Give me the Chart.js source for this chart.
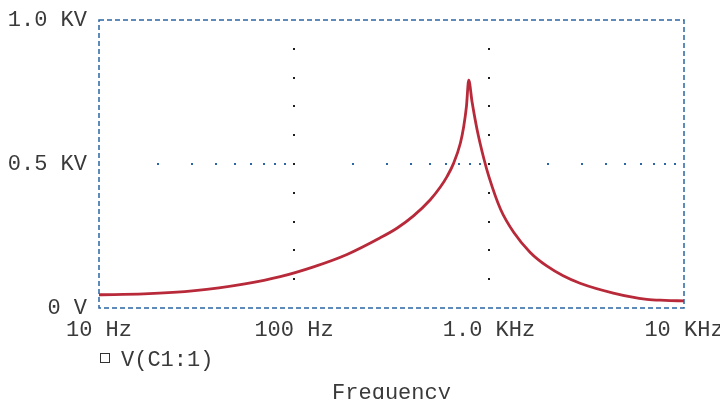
<!DOCTYPE html>
<html>
<head>
<meta charset="utf-8">
<script src="https://cdn.jsdelivr.net/npm/chart.js@4.4.0/dist/chart.umd.min.js"></script>
<style>
  html, body { margin: 0; padding: 0; background: #fff; }
  #wrap { width: 720px; height: 399px; }
</style>
</head>
<body>
<div id="wrap"><canvas id="chart"></canvas></div>
<script>
// AC sweep: frequency (Hz) and V(C1:1) (volts)
const freqs = [10, 17, 31, 56, 85, 126, 187, 277, 337, 410, 500, 563, 610, 659, 713, 742, 766, 787,
               819, 869, 940, 997, 1146, 1341, 1627, 1977, 2400, 2930, 4340, 6450, 8000, 10000];
const volts = [46, 49, 60, 84, 109, 143, 186, 244, 277, 320, 376, 420, 457, 503, 572, 630, 699, 791,
               715, 619, 520, 458, 343, 262, 193, 146, 112, 86, 52, 30, 26.5, 24.5];
const seriesName = 'V(C1:1)';
const xTitle = 'Frequency';

const xTicks = [10, 100, 1000, 10000];
const xTickLabels = ['10 Hz', '100 Hz', '1.0 KHz', '10 KHz'];
const yTicks = [0, 500, 1000];
const yTickLabels = ['0 V', '0.5 KV', '1.0 KV'];

// dotted grid: black columns at the decades, blue row at 0.5 KV on the minor ticks
const gridDecades = [100, 1000];
const gridLevels = [100, 200, 300, 400, 500, 600, 700, 800, 900];
const minorFreqs = [20, 30, 40, 50, 60, 70, 80, 90, 200, 300, 400, 500, 600, 700, 800, 900,
                    2000, 3000, 4000, 5000, 6000, 7000, 8000, 9000];
const midLevel = 500;

const blue = '#2a66a3';
const textCol = '#3a3a3a';
const fontFamily = "'Liberation Mono', 'DejaVu Sans Mono', monospace";
const monoFont = { family: fontFamily, size: 22 };

const frameAndDots = {
  id: 'frameAndDots',
  beforeDatasetsDraw(chart) {
    const { ctx, chartArea: a, scales: { x, y } } = chart;
    ctx.save();
    ctx.fillStyle = blue;
    const py = Math.round(y.getPixelForValue(midLevel));
    minorFreqs.forEach(f => {
      const px = Math.round(x.getPixelForValue(f));
      ctx.fillRect(px - 1, py - 1, 2, 2);
    });
    ctx.fillStyle = '#1e1e1e';
    gridDecades.forEach(f => {
      const px = Math.round(x.getPixelForValue(f));
      gridLevels.forEach(v => {
        ctx.fillRect(px - 1, Math.round(y.getPixelForValue(v)) - 1, 2, 2);
      });
    });
    // dashed frame round the plot
    ctx.strokeStyle = blue;
    ctx.lineWidth = 1.5;
    ctx.setLineDash([5, 3]);
    ctx.strokeRect(a.left, a.top, a.right - a.left, a.bottom - a.top);
    ctx.restore();
  },
  // legend entry and axis name under the tick labels
  afterDraw(chart) {
    const { ctx, chartArea: a } = chart;
    ctx.save();
    ctx.font = `22px ${fontFamily}`;
    ctx.fillStyle = textCol;
    ctx.textBaseline = 'alphabetic';
    ctx.strokeStyle = '#333';
    ctx.lineWidth = 1;
    ctx.strokeRect(a.left + 1.5, a.bottom + 45.5, 9, 9);
    ctx.textAlign = 'left';
    ctx.fillText(seriesName, a.left + 22, a.bottom + 57.5);
    ctx.textAlign = 'center';
    ctx.fillText(xTitle, (a.left + a.right) / 2, a.bottom + 90.5);
    ctx.restore();
  }
};

new Chart(document.getElementById('chart'), {
  type: 'line',
  data: {
    datasets: [{
      label: seriesName,
      data: freqs.map((f, i) => ({ x: f, y: volts[i] })),
      borderColor: '#b82a3a',
      borderWidth: 2.8,
      pointRadius: 0,
      fill: false,
      cubicInterpolationMode: 'monotone'
    }]
  },
  options: {
    responsive: true,
    maintainAspectRatio: false,
    animation: false,
    layout: { padding: { left: 0, right: 36, top: 20, bottom: 0 } },
    scales: {
      x: {
        type: 'logarithmic',
        min: 10,
        max: 10000,
        afterBuildTicks: s => { s.ticks = xTicks.map(v => ({ value: v })); },
        afterFit: s => { s.height = 91; s.paddingLeft = 0; s.paddingRight = 0; },
        grid: { display: false, drawTicks: false },
        border: { display: false },
        ticks: {
          autoSkip: false,
          maxRotation: 0,
          padding: 9,
          color: textCol,
          font: monoFont,
          callback: (v, i) => xTickLabels[i]
        }
      },
      y: {
        min: 0,
        max: 1000,
        afterBuildTicks: s => { s.ticks = yTicks.map(v => ({ value: v })); },
        afterFit: s => { s.width = 99; s.paddingTop = 0; s.paddingBottom = 0; },
        grid: { display: false, drawTicks: false },
        border: { display: false },
        ticks: {
          padding: 12,
          color: textCol,
          font: monoFont,
          callback: (v, i) => yTickLabels[i]
        }
      }
    },
    plugins: {
      legend: { display: false },
      title: { display: false },
      tooltip: { enabled: false }
    }
  },
  plugins: [frameAndDots]
});
</script>
</body>
</html>
